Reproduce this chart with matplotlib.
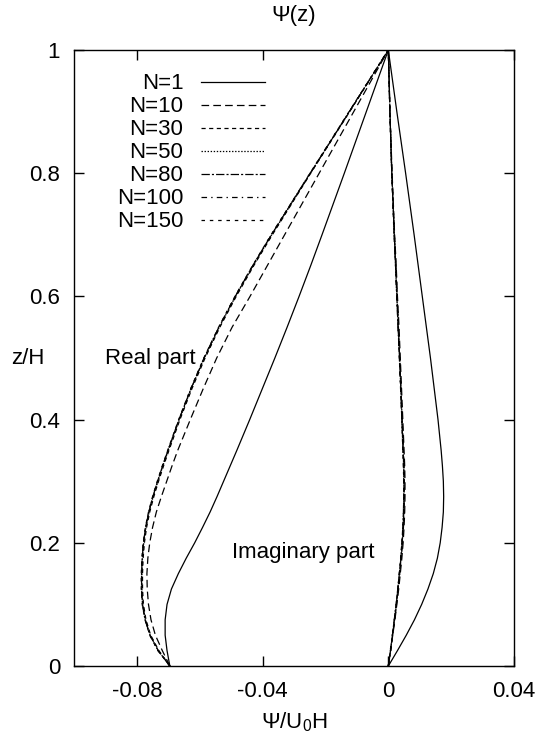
import matplotlib
matplotlib.use("Agg")
import matplotlib.pyplot as plt

plt.rcParams["font.family"] = ["Liberation Sans", "DejaVu Sans"]
plt.rcParams["mathtext.fontset"] = "custom"
plt.rcParams["mathtext.rm"] = "Liberation Sans"
plt.rcParams["mathtext.it"] = "Liberation Sans"
plt.rcParams["lines.scale_dashes"] = False

# z/H levels where the curves were read
z = [0, 0.025, 0.05, 0.075, 0.1, 0.125, 0.15, 0.175, 0.2, 0.225, 0.25, 0.275, 0.3,
     0.325, 0.35, 0.4, 0.45, 0.5, 0.55, 0.6, 0.65, 0.7, 0.8, 0.9, 1.0]

# real part
re_n1 = [-0.0695, -0.0704, -0.0710, -0.0710, -0.0704, -0.0690, -0.0668, -0.0643, -0.0616,
         -0.0591, -0.0567, -0.0545, -0.0524, -0.0503, -0.0482, -0.0441, -0.0401, -0.0361,
         -0.0322, -0.0284, -0.0247, -0.0211, -0.0140, -0.0070, 0.0]
re_n10 = [-0.0695, -0.0719, -0.0741, -0.0755, -0.0763, -0.0767, -0.0768, -0.0765, -0.0759,
          -0.0750, -0.0738, -0.0722, -0.0705, -0.0688, -0.0670, -0.0630, -0.0589, -0.0546,
          -0.0497, -0.0440, -0.0385, -0.0330, -0.0220, -0.0110, 0.0]
re_n30 = [-0.0695, -0.0730, -0.0756, -0.0771, -0.0779, -0.0782, -0.0782, -0.0780, -0.0776,
          -0.0769, -0.0759, -0.0746, -0.0731, -0.0715, -0.0698, -0.0663, -0.0625, -0.0583,
          -0.0536, -0.0484, -0.0428, -0.0369, -0.0247, -0.0123, 0.0]
re_n50 = [-0.0695, -0.0732, -0.0758, -0.0773, -0.0781, -0.0784, -0.0784, -0.0782, -0.0778,
          -0.0771, -0.0761, -0.0748, -0.0733, -0.0717, -0.0700, -0.0665, -0.0627, -0.0585,
          -0.0538, -0.0486, -0.0430, -0.0371, -0.0248, -0.0124, 0.0]
re_n80 = [-0.0695, -0.0732, -0.0758, -0.0773, -0.0782, -0.0785, -0.0785, -0.0783, -0.0779,
          -0.0772, -0.0762, -0.0749, -0.0734, -0.0718, -0.0701, -0.0666, -0.0628, -0.0586,
          -0.0539, -0.0487, -0.0431, -0.0372, -0.0248, -0.0124, 0.0]
re_n100 = [-0.0695, -0.0732, -0.0758, -0.0774, -0.0782, -0.0785, -0.0785, -0.0783, -0.0779,
           -0.0772, -0.0762, -0.0749, -0.0734, -0.0718, -0.0701, -0.0666, -0.0628, -0.0586,
           -0.0539, -0.0487, -0.0431, -0.0372, -0.0249, -0.0124, 0.0]
re_n150 = [-0.0695, -0.0733, -0.0759, -0.0774, -0.0783, -0.0786, -0.0786, -0.0784, -0.0780,
           -0.0773, -0.0763, -0.0750, -0.0735, -0.0719, -0.0702, -0.0667, -0.0629, -0.0587,
           -0.0540, -0.0488, -0.0432, -0.0373, -0.0249, -0.0125, 0.0]

# imaginary part
im_n1 = [0.0, 0.0029, 0.0057, 0.0083, 0.0106, 0.0126, 0.0143, 0.0156, 0.0165, 0.0171,
         0.0175, 0.0176, 0.0175, 0.0172, 0.0168, 0.0158, 0.0146, 0.0134, 0.0121, 0.0108,
         0.0095, 0.0082, 0.0055, 0.0027, 0.0]
im_n10 = [0.0, 0.0007, 0.0014, 0.0021, 0.0027, 0.0033, 0.0038, 0.0043, 0.0047, 0.0050,
          0.0052, 0.0053, 0.0053, 0.0052, 0.0050, 0.0046, 0.0042, 0.0038, 0.0034, 0.0029,
          0.0025, 0.0020, 0.0012, 0.0005, 0.0]
im_n30 = [0.0, 0.0007, 0.0013, 0.0020, 0.0026, 0.0031, 0.0036, 0.0041, 0.0045, 0.0048,
          0.0050, 0.0051, 0.0051, 0.0050, 0.0048, 0.0044, 0.0040, 0.0036, 0.0032, 0.0028,
          0.0024, 0.0019, 0.0011, 0.0005, 0.0]
im_n50 = [0.0, 0.0007, 0.0013, 0.0019, 0.0025, 0.0031, 0.0036, 0.0040, 0.0044, 0.0047,
          0.0049, 0.0050, 0.0050, 0.0049, 0.0047, 0.0044, 0.0040, 0.0036, 0.0032, 0.0027,
          0.0023, 0.0019, 0.0011, 0.0005, 0.0]
im_n80 = [0.0, 0.0007, 0.0013, 0.0019, 0.0025, 0.0030, 0.0035, 0.0040, 0.0044, 0.0047,
          0.0049, 0.0050, 0.0050, 0.0049, 0.0047, 0.0043, 0.0040, 0.0036, 0.0031, 0.0027,
          0.0023, 0.0019, 0.0011, 0.0005, 0.0]
im_n100 = [0.0, 0.0007, 0.0013, 0.0019, 0.0025, 0.0030, 0.0035, 0.0040, 0.0043, 0.0046,
           0.0048, 0.0049, 0.0049, 0.0048, 0.0047, 0.0043, 0.0039, 0.0035, 0.0031, 0.0027,
           0.0023, 0.0019, 0.0011, 0.0005, 0.0]
im_n150 = [0.0, 0.0006, 0.0013, 0.0019, 0.0025, 0.0030, 0.0035, 0.0039, 0.0043, 0.0046,
           0.0048, 0.0049, 0.0049, 0.0048, 0.0046, 0.0043, 0.0039, 0.0035, 0.0031, 0.0027,
           0.0023, 0.0018, 0.0011, 0.0005, 0.0]

labels = ["N=1", "N=10", "N=30", "N=50", "N=80", "N=100", "N=150"]
reals = [re_n1, re_n10, re_n30, re_n50, re_n80, re_n100, re_n150]
imags = [im_n1, im_n10, im_n30, im_n50, im_n80, im_n100, im_n150]
styles = ["-", (0, (5.5, 3)), (0, (3, 2.5)), (0, (1, 1.2)),
          (0, (6, 1.5, 1.5, 1.5)), (0, (4, 3, 1, 3)), (0, (2.5, 3.5))]

xticks = [-0.08, -0.04, 0, 0.04]
xticklabels = ["-0.08", "-0.04", "0", "0.04"]
yticks = [0, 0.2, 0.4, 0.6, 0.8, 1.0]
yticklabels = ["0", "0.2", "0.4", "0.6", "0.8", "1"]

fig = plt.figure(figsize=(5.4, 7.42), dpi=100)
ax = fig.add_axes([0.137, 0.1024, 0.815, 0.8302])

for re, im, lab, ls in zip(reals, imags, labels, styles):
    ax.plot(re, z, color="black", lw=0.9, linestyle=ls, label=lab)
    ax.plot(im, z, color="black", lw=0.9, linestyle=ls)

ax.set_xlim(-0.1, 0.04)
ax.set_ylim(0, 1)
ax.set_xticks(xticks)
ax.set_xticklabels(xticklabels)
ax.set_yticks(yticks)
ax.set_yticklabels(yticklabels)
ax.tick_params(direction="in", length=7, width=1, top=True, right=True,
               labelsize=16, color="black")
ax.tick_params(axis="x", pad=11)
ax.tick_params(axis="y", pad=10)
for sp in ax.spines.values():
    sp.set_linewidth(1)

ax.set_title("Ψ(z)", fontsize=16, pad=21)
ax.set_xlabel("Ψ/U$_0$H", fontsize=16, labelpad=6)
ax.set_ylabel("z/H", fontsize=16, rotation=0, ha="center", va="center")
ax.yaxis.set_label_coords(-0.105, 0.5)

ax.text(-0.0902, 0.5, "Real part", fontsize=16, ha="left", va="center")
ax.text(-0.0497, 0.185, "Imaginary part", fontsize=16, ha="left", va="center")

ax.legend(loc="upper right", bbox_to_anchor=(0.434, 0.962), frameon=False,
          markerfirst=False, fontsize=16, handlelength=2.9, handletextpad=0.77,
          labelspacing=0.09, borderpad=0, borderaxespad=0)

fig.savefig("out.png", dpi=100)
